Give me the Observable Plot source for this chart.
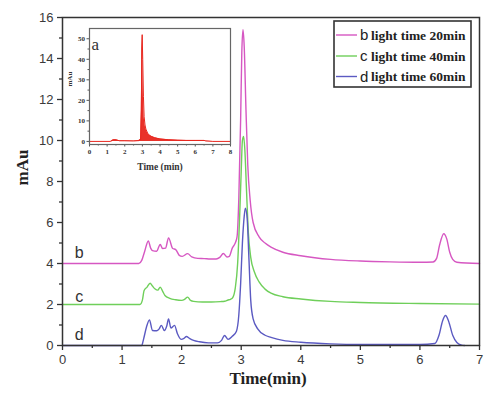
<!DOCTYPE html>
<html>
<head>
<meta charset="utf-8">
<script src="https://cdn.jsdelivr.net/npm/d3@7"></script>
<script src="https://cdn.jsdelivr.net/npm/@observablehq/plot@0.6"></script>
<style>
  html, body { margin: 0; padding: 0; background: #fff; }
  #wrap { position: relative; width: 500px; height: 396px; overflow: hidden; }
  #wrap > svg, #wrap > div { position: absolute; }
</style>
</head>
<body>
<div id="wrap"></div>
<script>
// ---- Data ----
const seriesNames = ["b light time 20min", "c light time 40min", "d light time 60min"];
const seriesLetters = ["b", "c", "d"];
const seriesColors = ["#d657c2", "#6fcf5a", "#5b5ac2"];

const timeB = [0, 1.28, 1.33, 1.38, 1.44, 1.48, 1.51, 1.58, 1.64, 1.68, 1.73, 1.78, 1.85, 1.9, 1.96, 2.01, 2.1, 2.17, 2.27, 2.38, 2.48, 2.58, 2.64, 2.7, 2.76, 2.8, 2.85, 2.9, 2.93, 2.96, 2.99, 3.01, 3.03, 3.05, 3.08, 3.11, 3.15, 3.2, 3.3, 3.4, 3.5, 3.7, 4.0, 4.5, 5.0, 5.5, 6.0, 6.22, 6.28, 6.33, 6.4, 6.45, 6.5, 6.55, 6.62, 7.0];
const mAuB  = [4.0, 4.0, 4.15, 4.6, 5.1, 4.75, 4.63, 4.6, 4.93, 4.73, 4.75, 5.25, 4.73, 4.68, 4.4, 4.35, 4.48, 4.32, 4.25, 4.24, 4.22, 4.22, 4.3, 4.49, 4.32, 4.35, 4.75, 5.0, 5.3, 7.2, 11.0, 14.3, 15.4, 14.6, 11.5, 8.8, 7.1, 6.0, 5.3, 5.0, 4.8, 4.55, 4.38, 4.2, 4.12, 4.08, 4.06, 4.07, 4.25, 4.9, 5.45, 5.2, 4.55, 4.2, 4.06, 4.0];

const timeC = [0, 1.3, 1.34, 1.37, 1.42, 1.47, 1.51, 1.55, 1.6, 1.64, 1.68, 1.72, 1.8, 1.9, 2.0, 2.05, 2.1, 2.15, 2.2, 2.35, 2.5, 2.65, 2.72, 2.78, 2.82, 2.86, 2.9, 2.94, 2.97, 3.0, 3.02, 3.04, 3.06, 3.09, 3.12, 3.16, 3.22, 3.3, 3.4, 3.5, 3.7, 4.0, 4.5, 5.0, 6.0, 7.0];
const mAuC  = [2.0, 2.0, 2.2, 2.68, 2.85, 3.04, 2.9, 2.77, 2.7, 2.85, 2.65, 2.44, 2.3, 2.23, 2.2, 2.25, 2.36, 2.2, 2.15, 2.12, 2.12, 2.14, 2.16, 2.22, 2.25, 2.35, 2.8, 4.0, 6.0, 8.5, 10.0, 10.2, 9.6, 7.5, 5.5, 4.3, 3.6, 3.1, 2.75, 2.55, 2.38, 2.27, 2.15, 2.1, 2.05, 2.02];

const timeD = [0, 1.33, 1.36, 1.41, 1.46, 1.51, 1.58, 1.62, 1.66, 1.71, 1.75, 1.78, 1.82, 1.88, 1.93, 1.99, 2.04, 2.08, 2.13, 2.2, 2.3, 2.45, 2.6, 2.67, 2.72, 2.78, 2.85, 2.92, 2.96, 2.99, 3.02, 3.05, 3.07, 3.1, 3.13, 3.16, 3.2, 3.28, 3.4, 3.5, 3.7, 4.0, 4.5, 5.0, 6.0, 6.25, 6.32, 6.38, 6.43, 6.48, 6.55, 6.62, 6.7, 6.75];
const mAuD  = [0, 0, 0.3, 0.9, 1.25, 0.73, 0.72, 0.8, 0.98, 0.73, 0.95, 1.3, 0.85, 0.98, 0.57, 0.3, 0.35, 0.44, 0.35, 0.25, 0.18, 0.13, 0.13, 0.25, 0.49, 0.3, 0.45, 0.7, 1.5, 3.0, 5.0, 6.3, 6.7, 6.2, 4.2, 2.2, 1.3, 0.8, 0.5, 0.4, 0.25, 0.16, 0.08, 0.05, 0.05, 0.1, 0.5, 1.2, 1.46, 1.2, 0.5, 0.15, 0.02, 0];

// Inset (a)
const timeA = [0, 1.2, 1.35, 1.5, 1.7, 2.0, 2.5, 2.8, 2.9, 2.94, 2.97, 2.99, 3.02, 3.06, 3.1, 3.15, 3.2, 3.3, 3.4, 3.5, 3.7, 4.0, 4.5, 5.0, 5.5, 6.0, 6.5, 6.6, 7.0, 8.0];
const mAuA  = [0, 0, 0.8, 0.8, 0.3, 0.3, 0.2, 0.4, 1.0, 15, 45, 52, 40, 22, 12, 8, 6, 4, 3, 2.5, 1.8, 1.2, 0.8, 0.6, 0.5, 0.5, 0.5, 0.2, 0, 0];
const insetColor = "#e8271f";

// Label positions for b, c, d (data coords)
const labelTime = [0.28, 0.28, 0.28];
const labelMAu = [4.5, 2.36, 0.5];

const xTicksMain = [0, 1, 2, 3, 4, 5, 6, 7];
const yTicksMain = [0, 2, 4, 6, 8, 10, 12, 14, 16];
const xTicksInset = [0, 1, 2, 3, 4, 5, 6, 7, 8];
const yTicksInset = [0, 10, 20, 30, 40, 50];

// ---- Build ----
const toRows = (ts, vs) => ts.map((t, i) => ({t, v: vs[i]}));
const B = toRows(timeB, mAuB), C = toRows(timeC, mAuC), D = toRows(timeD, mAuD), A = toRows(timeA, mAuA);
const labels = seriesLetters.map((s, i) => ({s, t: labelTime[i], v: labelMAu[i]}));
const fmt = d => String(d);

const main = Plot.plot({
  width: 500, height: 396,
  marginLeft: 62, marginRight: 21, marginTop: 17, marginBottom: 51,
  style: {fontFamily: "'Liberation Sans', Arial, sans-serif", fontSize: "13px", color: "#3a3a3a", background: "transparent"},
  x: {domain: [0, 7]},
  y: {domain: [0, 16]},
  marks: [
    Plot.lineY(B, {x: "t", y: "v", stroke: seriesColors[0], strokeWidth: 1.4, curve: "monotone-x"}),
    Plot.lineY(C, {x: "t", y: "v", stroke: seriesColors[1], strokeWidth: 1.4, curve: "monotone-x"}),
    Plot.lineY(D, {x: "t", y: "v", stroke: seriesColors[2], strokeWidth: 1.4, curve: "monotone-x"}),
    Plot.axisX({ticks: xTicksMain, tickFormat: fmt, tickSize: 5, tickPadding: 4, label: null, stroke: "#333", strokeWidth: 1.3}),
    Plot.axisX({ticks: d3.range(0.5, 7, 1), tickSize: 3, tickFormat: () => "", label: null, stroke: "#333", strokeWidth: 1.3}),
    Plot.axisY({ticks: yTicksMain, tickFormat: fmt, tickSize: 5, tickPadding: 4, label: null, stroke: "#333", strokeWidth: 1.3}),
    Plot.axisY({ticks: d3.range(1, 16, 2), tickSize: 3, tickFormat: () => "", label: null, stroke: "#333", strokeWidth: 1.3}),
    Plot.frame({stroke: "#333", strokeWidth: 1.5}),
    Plot.text(labels, {x: "t", y: "v", text: "s", fontSize: 16, fill: "#333", textAnchor: "middle"}),
    Plot.text(["Time(min)"], {frameAnchor: "bottom", dy: 38, dx: -3, fontSize: 17, fontWeight: "bold", fontFamily: "'Liberation Serif', 'Times New Roman', serif", fill: "#222"}),
    Plot.text(["mAu"], {frameAnchor: "left", dx: -40, dy: 4, rotate: -90, fontSize: 17, fontWeight: "bold", fontFamily: "'Liberation Serif', 'Times New Roman', serif", fill: "#222"})
  ]
});
main.style.left = "0px"; main.style.top = "0px";
document.getElementById("wrap").appendChild(main);

const inset = Plot.plot({
  width: 180, height: 165,
  marginLeft: 29, marginRight: 10, marginTop: 13, marginBottom: 36,
  style: {fontFamily: "'Liberation Serif', 'Times New Roman', serif", fontWeight: "bold", fontSize: "7px", color: "#333", background: "transparent"},
  x: {domain: [0, 8]},
  y: {domain: [-1.5, 55]},
  marks: [
    Plot.frame({fill: "white"}),
    Plot.areaY(A, {x: "t", y: "v", fill: insetColor, fillOpacity: 0.95, curve: "linear"}),
    Plot.lineY(A, {x: "t", y: "v", stroke: insetColor, strokeWidth: 1, curve: "linear"}),
    Plot.axisX({ticks: xTicksInset, tickFormat: fmt, tickSize: 2.5, tickPadding: 2, label: null, stroke: "#555"}),
    Plot.axisX({ticks: d3.range(0.5, 8, 1), tickSize: 1.5, tickFormat: () => "", label: null, stroke: "#555"}),
    Plot.axisY({ticks: yTicksInset, tickFormat: fmt, tickSize: 2.5, tickPadding: 2, label: null, stroke: "#555"}),
    Plot.axisY({ticks: d3.range(5, 55, 10), tickSize: 1.5, tickFormat: () => "", label: null, stroke: "#555"}),
    Plot.frame({stroke: "#666", strokeWidth: 1.2}),
    Plot.text(["a"], {frameAnchor: "top-left", dx: 2, dy: 9, textAnchor: "start", fontSize: 17, fontWeight: "normal", fill: "#333"}),
    Plot.text(["Time (min)"], {frameAnchor: "bottom", dy: 25, fontSize: 9.5, fill: "#333"}),
    Plot.text(["mAu"], {frameAnchor: "left", dx: -20, rotate: -90, fontSize: 7, fill: "#333"})
  ]
});
inset.style.left = "60px"; inset.style.top = "15px";
document.getElementById("wrap").appendChild(inset);

// Legend
const ns = "http://www.w3.org/2000/svg";
const leg = document.createElementNS(ns, "svg");
leg.setAttribute("width", 140); leg.setAttribute("height", 70);
leg.style.position = "absolute"; leg.style.left = "333px"; leg.style.top = "20px";
const rect = document.createElementNS(ns, "rect");
rect.setAttribute("x", 1); rect.setAttribute("y", 1); rect.setAttribute("width", 137); rect.setAttribute("height", 66);
rect.setAttribute("fill", "white"); rect.setAttribute("stroke", "#333"); rect.setAttribute("stroke-width", 1.6);
leg.appendChild(rect);
const rowY = [15, 36, 56.5];
seriesNames.forEach((name, i) => {
  const ln = document.createElementNS(ns, "line");
  ln.setAttribute("x1", 3); ln.setAttribute("x2", 24);
  ln.setAttribute("y1", rowY[i]); ln.setAttribute("y2", rowY[i]);
  ln.setAttribute("stroke", seriesColors[i]); ln.setAttribute("stroke-width", 1.4);
  leg.appendChild(ln);
  const t1 = document.createElementNS(ns, "text");
  t1.setAttribute("x", 27); t1.setAttribute("y", rowY[i] + 5);
  t1.setAttribute("font-family", "'Liberation Sans', Arial, sans-serif");
  t1.setAttribute("font-size", 15); t1.setAttribute("fill", "#222");
  t1.textContent = seriesLetters[i];
  leg.appendChild(t1);
  const t2 = document.createElementNS(ns, "text");
  t2.setAttribute("x", 38); t2.setAttribute("y", rowY[i] + 4.5);
  t2.setAttribute("font-family", "'Liberation Serif', 'Times New Roman', serif");
  t2.setAttribute("font-weight", "bold");
  t2.setAttribute("font-size", 13.5); t2.setAttribute("fill", "#222");
  t2.textContent = name.slice(2);
  leg.appendChild(t2);
});
document.getElementById("wrap").appendChild(leg);
</script>
</body>
</html>
